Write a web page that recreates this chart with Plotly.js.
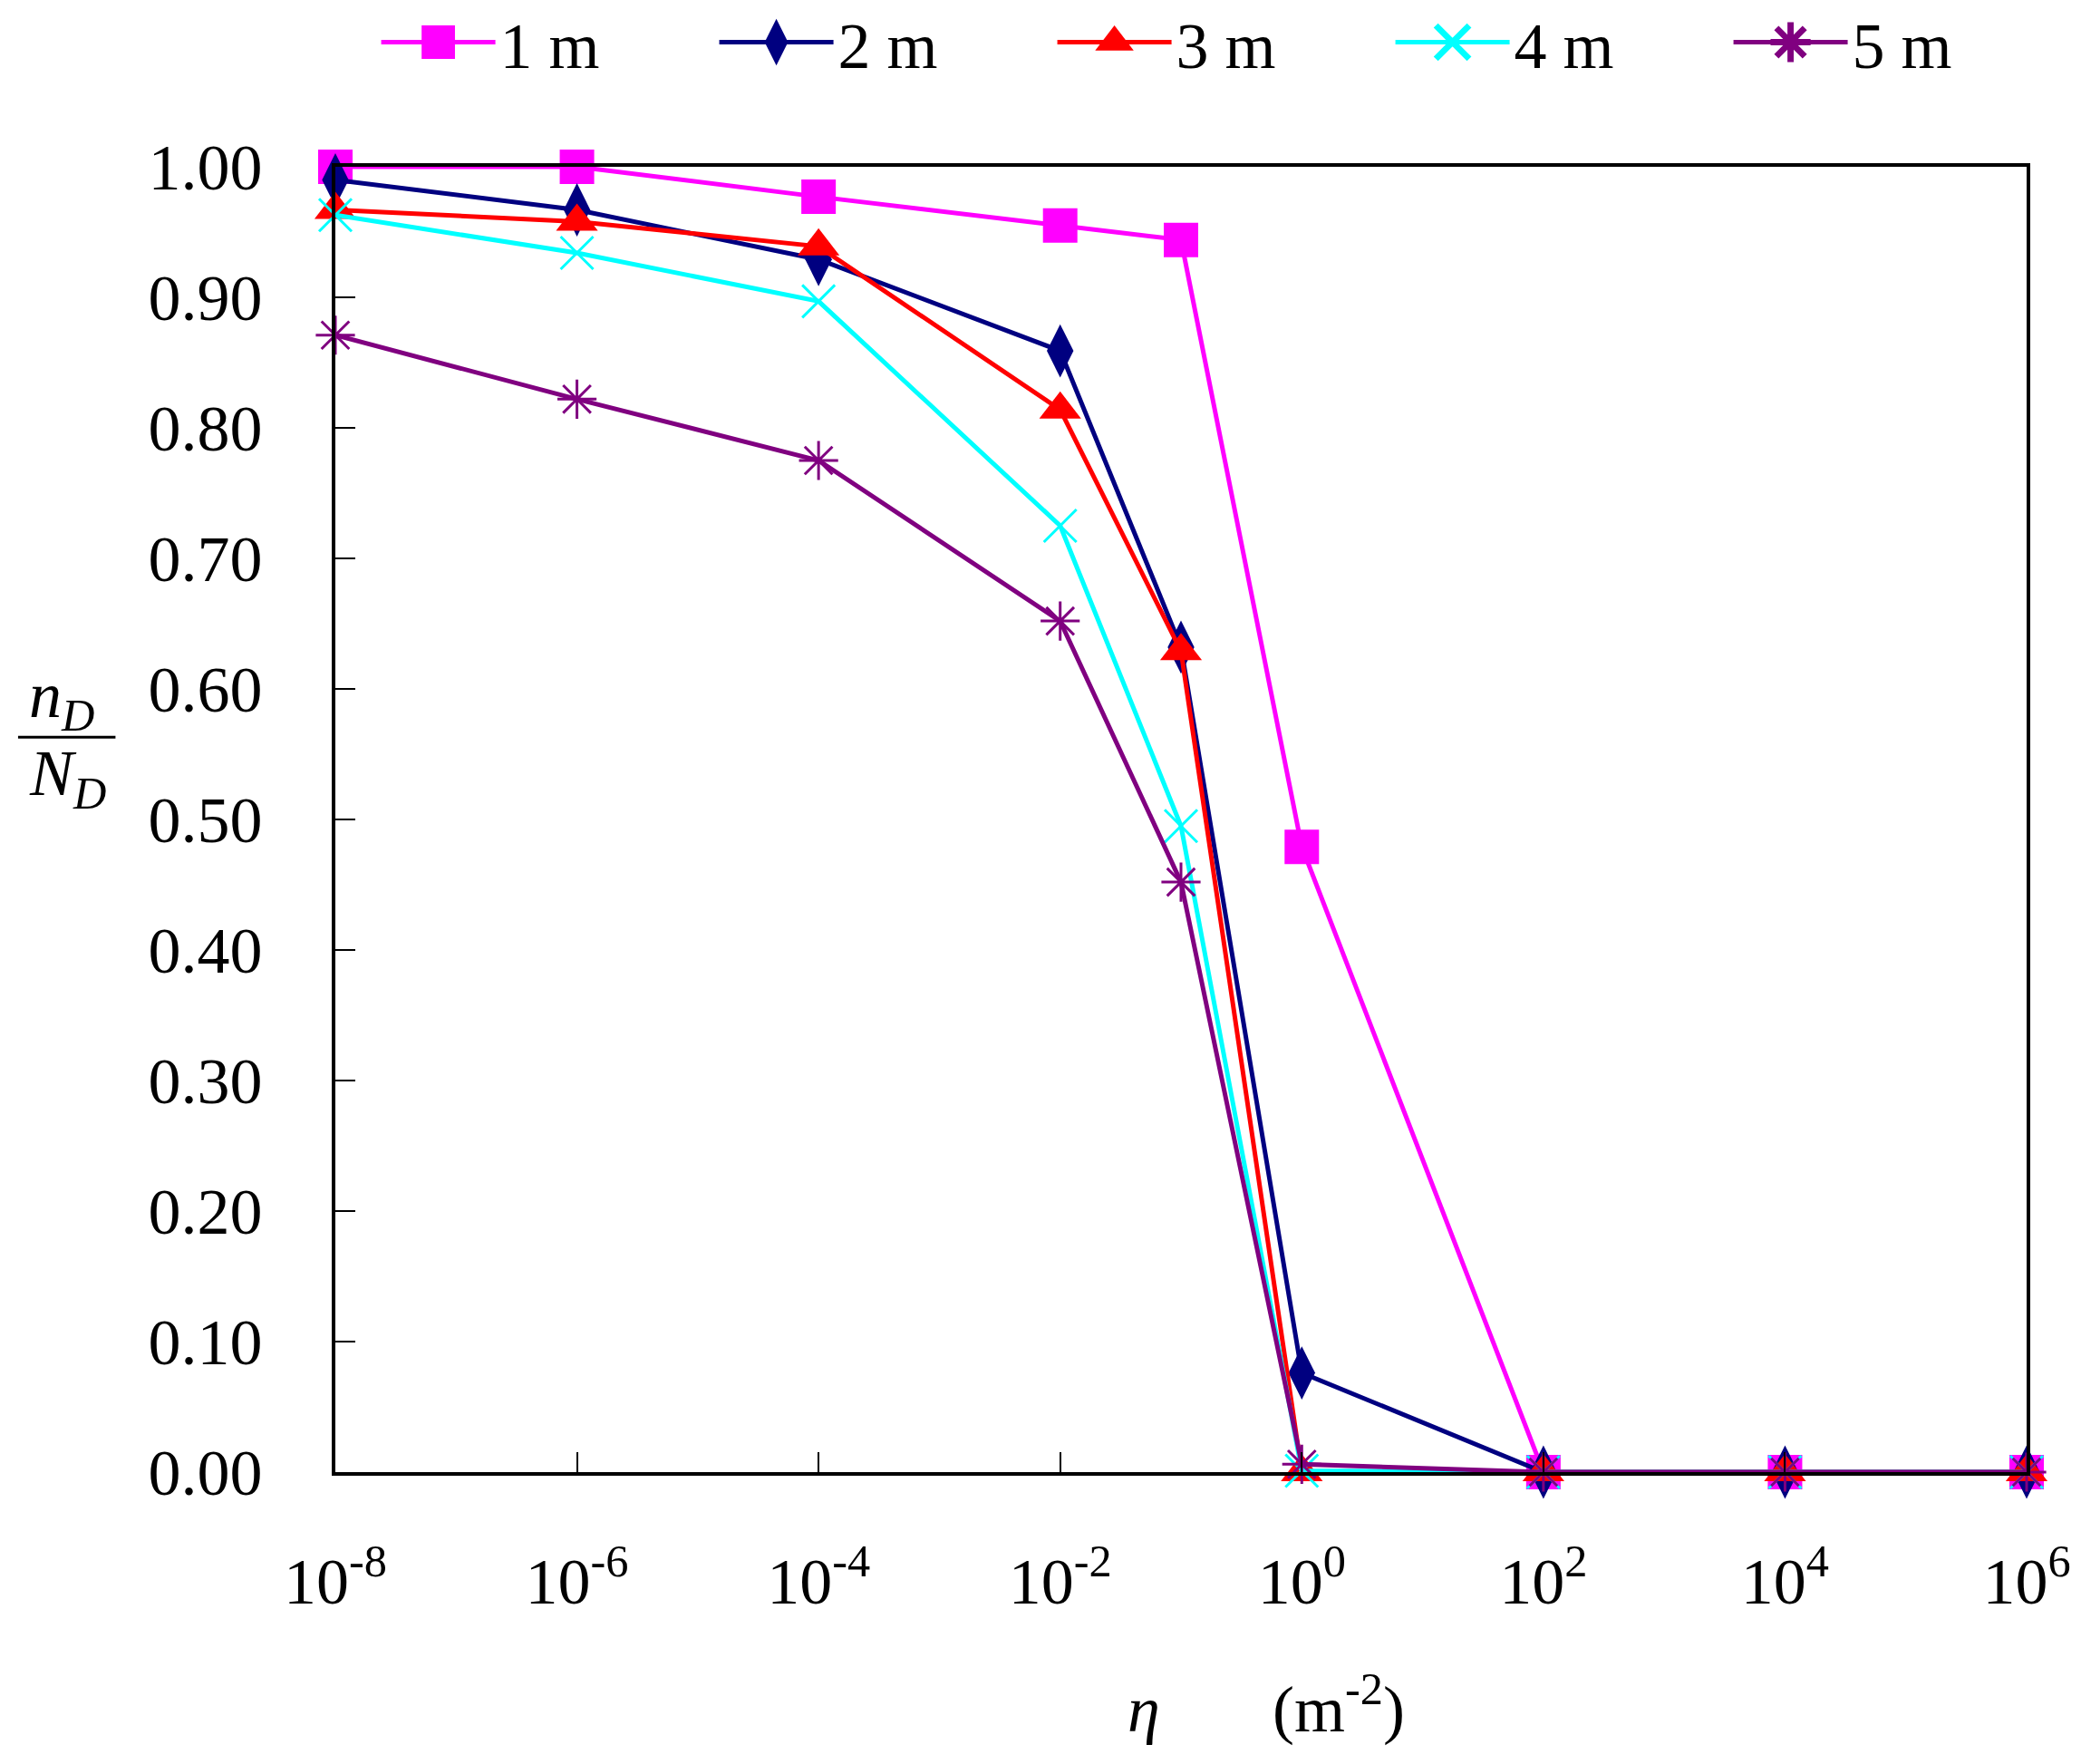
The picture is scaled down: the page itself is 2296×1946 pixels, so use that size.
<!DOCTYPE html>
<html>
<head>
<meta charset="utf-8">
<script src="https://cdn.plot.ly/plotly-3.0.1.min.js"></script>
<style>
  html, body { margin: 0; padding: 0; background: #fff; }
  #graph { width: 2296px; height: 1946px; }
</style>
</head>
<body>
<div id="graph"></div>
<script>
// eta values (m^-2)
var etaValues = [1e-8, 1e-6, 1e-4, 1e-2, 1e-1, 1e0, 1e2, 1e4, 1e6];

// nD/ND for each spacing
var ratio1m = [1.000, 1.000, 0.977, 0.955, 0.944, 0.479, 0.000, 0.000, 0.000];
var ratio2m = [0.990, 0.967, 0.929, 0.859, 0.632, 0.076, 0.000, 0.000, 0.000];
var ratio3m = [0.967, 0.958, 0.939, 0.814, 0.629, 0.000, 0.000, 0.000, 0.000];
var ratio4m = [0.963, 0.934, 0.897, 0.725, 0.495, 0.001, 0.000, 0.000, 0.000];
var ratio5m = [0.871, 0.822, 0.775, 0.652, 0.452, 0.006, 0.000, 0.000, 0.000];

var seriesNames = ['1 m', '2 m', '3 m', '4 m', '5 m'];

var xTickVals = [1e-8, 1e-6, 1e-4, 1e-2, 1e0, 1e2, 1e4, 1e6];
var xTickText = ['10<sup>-8</sup>', '10<sup>-6</sup>', '10<sup>-4</sup>', '10<sup>-2</sup>',
                 '10<sup>0</sup>', '10<sup>2</sup>', '10<sup>4</sup>', '10<sup>6</sup>'];

var serif = 'Liberation Serif, Times New Roman, serif';

function makeTrace(yList, name, color, symbol, size, lineW) {
    return {
        x: etaValues,
        y: yList,
        name: name,
        type: 'scatter',
        mode: 'lines+markers',
        cliponaxis: false,
        line: { color: color, width: 5 },
        marker: { symbol: symbol, size: size, color: color, line: { color: color, width: lineW } }
    };
}

var data = [
    makeTrace(ratio1m, seriesNames[0], '#FF00FF', 'square', 38, 0),
    makeTrace(ratio2m, seriesNames[1], '#000080', 'diamond-tall', 42, 0),
    makeTrace(ratio3m, seriesNames[2], '#FF0000', 'triangle-up', 40, 0),
    makeTrace(ratio4m, seriesNames[3], '#00FFFF', 'x-thin-open', 36, 3),
    makeTrace(ratio5m, seriesNames[4], '#800080', 'asterisk-open', 36, 3)
];

var layout = {
    width: 2296,
    height: 1946,
    margin: { l: 370, r: 60, t: 184, b: 322 },
    paper_bgcolor: '#fff',
    plot_bgcolor: '#fff',
    font: { family: serif, size: 72, color: '#000' },
    showlegend: true,
    legend: {
        orientation: 'h',
        xref: 'container', yref: 'container',
        x: 0.181, xanchor: 'left',
        y: 0.976, yanchor: 'middle',
        font: { family: serif, size: 72, color: '#000' },
        itemwidth: 126,
        entrywidth: 232,
        tracegroupgap: 0
    },
    xaxis: {
        type: 'log',
        range: [-8, 6],
        tickvals: xTickVals,
        ticktext: xTickText,
        ticks: 'inside',
        ticklen: 22,
        tickwidth: 2,
        tickcolor: '#000',
        ticklabelstandoff: 55,
        showline: true,
        linecolor: '#000',
        linewidth: 4,
        mirror: true,
        showgrid: false,
        zeroline: false,
        tickfont: { family: serif, size: 72 }
    },
    yaxis: {
        range: [0, 1],
        dtick: 0.1,
        tickformat: '.2f',
        ticks: 'inside',
        ticklen: 22,
        tickwidth: 2,
        tickcolor: '#000',
        ticklabelstandoff: 62,
        showline: true,
        linecolor: '#000',
        linewidth: 4,
        mirror: true,
        showgrid: false,
        zeroline: false,
        tickfont: { family: serif, size: 72 }
    },
    annotations: [
        { xref: 'paper', yref: 'paper', x: 0.478, y: -0.211, showarrow: false,
          text: '<i>η</i>', font: { family: serif, size: 72 } },
        { xref: 'paper', yref: 'paper', x: 0.593, y: -0.211, showarrow: false,
          text: '(m<sup>-2</sup>)', font: { family: serif, size: 72 } },
        { xref: 'paper', yref: 'paper', x: -0.182, y: 0.592, yanchor: 'middle', showarrow: false,
          text: '<i>n<sub>D</sub></i>', font: { family: serif, size: 72 } },
        { xref: 'paper', yref: 'paper', x: -0.182, y: 0.532, yanchor: 'middle', showarrow: false,
          text: '<i>N<sub>D</sub></i>', font: { family: serif, size: 72 } }
    ],
    shapes: [
        { type: 'line', xref: 'paper', yref: 'paper', x0: -0.1876, x1: -0.130, y0: 0.563, y1: 0.563,
          line: { color: '#000', width: 3 } }
    ]
};

Plotly.newPlot('graph', data, layout, { displayModeBar: false }).then(function (gd) {
    // legend symbols are capped small by plotly, blow them up to match the plot markers
    gd.querySelectorAll('.legend .legendpoints path.scatterpts').forEach(function (p) {
        p.setAttribute('transform', (p.getAttribute('transform') || '') + ' scale(2.3)');
    });
});
</script>
</body>
</html>
